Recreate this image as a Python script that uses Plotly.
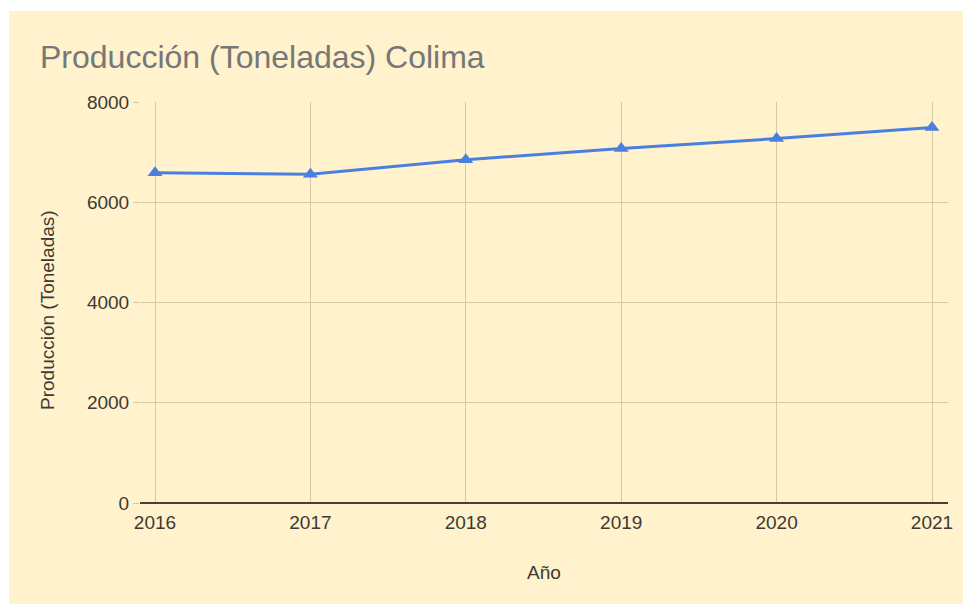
import plotly.graph_objects as go

years = [2016, 2017, 2018, 2019, 2020, 2021]
produccion = [6590, 6560, 6850, 7070, 7270, 7490]
y_ticks = [0, 2000, 4000, 6000, 8000]

W, H = 963, 604
L, R, T, B = 140, 15, 102, 101
pw, ph = W - L - R, H - T - B

FONT = "Arial, Liberation Sans, sans-serif"
BG = "#fff2cc"
GRID = "#d5c9a4"
TXT = "#3d3a33"

fig = go.Figure()
fig.add_trace(go.Scatter(
    x=years, y=produccion, mode="lines+markers",
    line=dict(color="#4a7fe0", width=3),
    marker=dict(symbol="triangle-up", size=13, color="#4a7fe0"),
    showlegend=False,
))

# beige panel with white border on top/left
fig.add_shape(type="rect", xref="paper", yref="paper",
              x0=(9 - L) / pw, x1=(W + 5 - L) / pw,
              y0=(T + ph - (H + 5)) / ph, y1=(T + ph - 11) / ph,
              fillcolor=BG, line=dict(width=0), layer="below")

# axis titles
fig.add_annotation(text="Año", xref="paper", yref="paper",
                   x=0.5, y=(T + ph - 572) / ph, xanchor="center", yanchor="middle",
                   showarrow=False, font=dict(size=19, color=TXT, family=FONT))
fig.add_annotation(text="Producción (Toneladas)", xref="paper", yref="paper",
                   x=(47 - L) / pw, y=(T + ph - 310) / ph, xanchor="center", yanchor="middle",
                   textangle=-90, showarrow=False, font=dict(size=19, color=TXT, family=FONT))

fig.update_layout(
    width=W, height=H,
    margin=dict(l=L, r=R, t=T, b=B, autoexpand=False),
    paper_bgcolor="white", plot_bgcolor=BG,
    font=dict(family=FONT, color=TXT),
    title=dict(text="Producción (Toneladas) Colima",
               x=40 / W, xanchor="left", xref="container",
               y=1 - 57 / H, yanchor="middle", yref="container",
               font=dict(size=32, color="#777777", family=FONT)),
    xaxis=dict(range=[2016 - 15 / 155.4, 2021 + 16 / 155.4],
               tickvals=years, ticktext=[str(y) for y in years],
               showgrid=True, gridcolor=GRID, gridwidth=1,
               zeroline=False, showline=False, automargin=False,
               ticks="outside", ticklen=2, tickcolor="rgba(0,0,0,0)",
               tickfont=dict(size=19, color=TXT)),
    yaxis=dict(range=[0, 8000], tickvals=y_ticks,
               showgrid=True, gridcolor=GRID, gridwidth=1,
               zeroline=True, zerolinecolor="#4a4030", zerolinewidth=2,
               ticks="outside", ticklen=6, tickcolor=GRID, automargin=False,
               tickfont=dict(size=19, color=TXT)),
)

fig.write_html("out.html")
